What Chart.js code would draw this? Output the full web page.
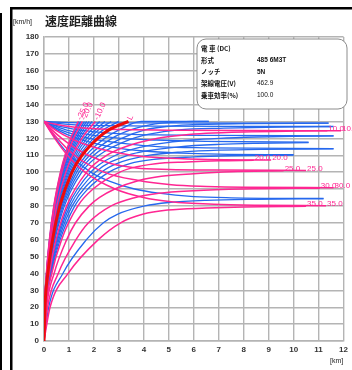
<!DOCTYPE html>
<html>
<head>
<meta charset="utf-8">
<script src="https://cdn.jsdelivr.net/npm/chart.js@4/dist/chart.umd.min.js"></script>
<style>
  html, body { margin: 0; padding: 0; background: #fff; }
  canvas { display: block; }
</style>
</head>
<body>
<canvas id="c" width="352" height="370"></canvas>
<script>
// ---- axis ticks ----
const distTicks = [0, 1, 2, 3, 4, 5, 6, 7, 8, 9, 10, 11, 12];      // km
const speedTicks = [0, 10, 20, 30, 40, 50, 60, 70, 80, 90, 100, 110, 120, 130, 140, 150, 160, 170, 180]; // km/h

// ---- accelerating from standstill, [distance km, speed km/h] ----
const accM25 = [[0,0],[0.024,20],[0.096,40],[0.216,60],[0.393,80],[0.658,100],[0.841,110],[1.072,120],[1.369,130]];
const accM24 = [[0,0],[0.024,20],[0.098,40],[0.220,60],[0.399,80],[0.669,100],[0.856,110],[1.093,120],[1.399,130]];
const accM22 = [[0,0],[0.025,20],[0.101,40],[0.226,60],[0.412,80],[0.692,100],[0.888,110],[1.138,120],[1.464,130]];
const accM20 = [[0,0],[0.026,20],[0.104,40],[0.234,60],[0.426,80],[0.717,100],[0.922,110],[1.186,120],[1.535,130]];
const accM18 = [[0,0],[0.027,20],[0.107,40],[0.241,60],[0.440,80],[0.744,100],[0.960,110],[1.240,120],[1.617,130]];
const accM16 = [[0,0],[0.028,20],[0.111,40],[0.250,60],[0.456,80],[0.773,100],[1.000,110],[1.299,120],[1.707,130]];
const accM14 = [[0,0],[0.029,20],[0.115,40],[0.259,60],[0.472,80],[0.804,100],[1.045,110],[1.364,120],[1.809,130]];
const accM12 = [[0,0],[0.030,20],[0.119,40],[0.268,60],[0.490,80],[0.838,100],[1.093,110],[1.436,120],[1.924,130]];
const accM10 = [[0,0],[0.031,20],[0.124,40],[0.278,60],[0.510,80],[0.875,100],[1.146,110],[1.516,120],[2.054,130]];
const accM8  = [[0,0],[0.032,20],[0.129,40],[0.290,60],[0.531,80],[0.916,100],[1.206,110],[1.612,120],[2.229,130]];
const accM6  = [[0,0],[0.034,20],[0.134,40],[0.302,60],[0.554,80],[0.960,100],[1.273,110],[1.719,120],[2.437,130]];
const accM4  = [[0,0],[0.035,20],[0.140,40],[0.315,60],[0.578,80],[1.010,100],[1.348,110],[1.842,120],[2.177,125],[2.689,130]];
const accM2  = [[0,0],[0.037,20],[0.146,40],[0.329,60],[0.606,80],[1.064,100],[1.432,110],[1.984,120],[2.370,125],[2.997,130]];
const accLevel = [[0,0],[0.038,20],[0.153,40],[0.344,60],[0.635,80],[1.125,100],[1.527,110],[2.150,120],[2.600,125],[3.385,130]];
const accP2  = [[0,0],[0.041,20],[0.166,40],[0.373,60],[0.690,80],[1.232,100],[1.693,110],[2.440,120],[3.010,125],[3.900,130],[6.600,130]];
const accP4  = [[0,0],[0.044,20],[0.175,40],[0.393,60],[0.728,80],[1.313,100],[1.830,110],[2.722,120],[3.464,125],[4.230,128],[4.690,129],[6.000,130],[6.600,130]];
const accP6  = [[0,0],[0.046,20],[0.184,40],[0.415,60],[0.770,80],[1.406,100],[1.997,110],[3.109,120],[4.050,125],[4.900,127],[5.800,128],[8.000,128.7],[11.400,129]];
const accP8  = [[0,0],[0.049,20],[0.195,40],[0.439,60],[0.818,80],[1.514,100],[2.203,110],[3.573,120],[4.220,122.5],[5.400,125],[7.200,126],[9.500,126.7],[11.600,127]];
const accP10 = [[0,0],[0.054,20],[0.216,40],[0.485,60],[0.908,80],[1.709,100],[2.521,110],[3.260,115],[4.560,120],[5.600,122],[6.500,123],[8.000,123.8],[10.000,124.3],[11.350,124.5]];
const accP12 = [[0,0],[0.058,20],[0.230,40],[0.518,60],[0.972,80],[1.868,100],[2.870,110],[3.940,115],[4.940,117.5],[5.900,119],[7.000,120],[8.500,120.8],[10.000,121.2],[11.600,121.4]];
const accP14 = [[0,0],[0.062,20],[0.246,40],[0.554,60],[1.046,80],[2.063,100],[3.380,110],[4.100,112.5],[5.400,115],[7.000,116.4],[8.500,117],[10.600,117.4]];
const accP16 = [[0,0],[0.066,20],[0.265,40],[0.597,60],[1.132,80],[2.312,100],[2.914,105],[4.230,110],[5.600,112],[7.000,113],[8.700,113.5],[11.600,113.7]];
const accP18 = [[0,0],[0.072,20],[0.287,40],[0.646,60],[1.234,80],[1.756,90],[2.603,100],[3.440,105],[4.400,107.5],[6.000,109],[7.500,109.7],[10.000,110.1]];
const accP20 = [[0,0],[0.078,20],[0.313,40],[0.704,60],[1.357,80],[1.967,90],[3.040,100],[3.520,102.5],[4.470,105],[5.700,106],[7.000,106.7],[8.400,107]];
const accP25 = [[0,0],[0.101,20],[0.404,40],[0.909,60],[1.263,70],[1.813,80],[2.228,85],[2.836,90],[3.800,95],[4.700,97.5],[6.000,99],[7.500,100.2],[9.600,100.8]];
const accP30 = [[0,0],[0.143,20],[0.570,40],[1.282,60],[1.780,70],[2.691,80],[3.662,85],[4.600,87.5],[6.000,89],[8.000,90],[11.050,90.5]];
const accP33 = [[0,0],[0.189,20],[0.756,40],[1.701,60],[2.379,70],[2.937,75],[4.040,80],[5.000,82],[6.500,83.3],[8.500,83.9],[11.200,84.2]];
const accP35 = [[0,0],[0.242,20],[0.966,40],[2.174,60],[3.070,70],[3.948,75],[4.950,77.5],[6.500,78.7],[8.000,79.4],[10.500,79.8]];

// ---- entering an up-grade at 130 km/h, [distance km, speed km/h] ----
const decP6  = [[0,130],[0.70,129.5],[3.00,129.15],[11.40,129.0]];
const decP8  = [[0,130],[0.46,129],[1.27,128],[2.50,127.5],[4.50,127.2],[8.00,127.05],[11.50,127]];
const decP10 = [[0,130],[0.25,129],[0.79,127.5],[1.70,126],[3.20,125.2],[5.50,124.8],[8.00,124.6],[11.90,124.5]];
const decP12 = [[0,130],[0.51,127.5],[1.40,125],[2.30,123.5],[3.30,122.5],[4.50,122],[6.50,121.7],[11.60,121.5]];
const decP14 = [[0,130],[0.88,125],[1.68,122.5],[3.10,120],[4.50,119],[6.50,118.2],[10.60,117.7]];
const decP16 = [[0,130],[0.66,125],[1.82,120],[2.89,117.5],[4.70,115],[6.50,114.4],[11.60,113.9]];
const decP18 = [[0,130],[0.53,125],[1.33,120],[2.67,115],[4.00,112.5],[5.50,111.2],[7.00,110.6],[10.00,110.3]];
const decP20 = [[0,130],[0.45,125],[1.06,120],[1.93,115],[3.52,110],[4.70,108.5],[6.20,107.6],[9.10,107.1]];
const decP25 = [[0,130],[0.32,125],[0.71,120],[1.18,115],[1.77,110],[2.71,105],[3.70,102.5],[5.00,101.6],[6.80,101.2],[10.50,101]];
const decP30 = [[0,130],[0.53,120],[1.22,110],[2.40,100],[3.79,95],[5.10,92.5],[6.50,91.5],[8.00,91],[11.60,90.8]];
const decP33 = [[0,130],[0.46,120],[1.03,110],[1.87,100],[2.56,95],[3.63,90],[4.60,87.5],[6.00,85.5],[7.50,84.8],[11.20,84.4]];
const decP35 = [[0,130],[0.43,120],[0.94,110],[1.64,100],[2.85,90],[3.98,85],[5.10,82.5],[6.80,81],[8.50,80.4],[11.30,80.1]];

// gradient tags written at the end of the tagged curves
const slantTags = [[accM25, '-25.0'], [accM20, '-20.0'], [accM10, '-10.0'], [accLevel, 'L']];
const flatTags = [[accP10, '10.0'], [decP10, '10.0'], [accP20, '20.0'], [decP20, '20.0'],
                  [accP25, '25.0'], [decP25, '25.0'], [accP30, '30.0'], [decP30, '30.0'],
                  [accP35, '35.0'], [decP35, '35.0']];

// info panel rows
const infoKeys = ['電 車 (DC)', '形式', 'ノッチ', '架線電圧(V)', '乗車効率(%)'];
const infoVals = ['', '485 6M3T', '5N', '462.9', '100.0'];

const BLUE = 'rgb(38,104,238)';
const PINK = 'rgb(255,38,146)';
const RED = 'rgb(236,12,12)';

function curve(pts, color, width, order) {
  return {
    data: pts.map(p => ({ x: p[0], y: p[1] })),
    borderColor: color,
    borderWidth: width,
    showLine: true,
    pointRadius: 0,
    fill: false,
    cubicInterpolationMode: 'monotone',
    order: order
  };
}

const blueSets = [accM24, accM22, accM18, accM16, accM14, accM12, accM8, accM6, accM4, accM2,
                  accP2, accP4, accP6, accP8, accP12, accP14, accP16, accP18, accP33,
                  decP6, decP8, decP12, decP14, decP16, decP18, decP33];
const pinkSets = [accM25, accM20, accM10, accP10, accP20, accP25, accP30, accP35,
                  decP10, decP20, decP25, decP30, decP35];

const datasets = [];
blueSets.forEach(s => datasets.push(curve(s, BLUE, 1.3, 3)));
pinkSets.forEach(s => datasets.push(curve(s, PINK, 1.5, 2)));
datasets.push(curve(accLevel, RED, 3, 1));

const decor = {
  id: 'decor',
  beforeDraw(chart) {
    const ctx = chart.ctx;
    ctx.save();
    ctx.fillStyle = '#fff';
    ctx.fillRect(0, 0, chart.width, chart.height);
    // page frame
    ctx.fillStyle = '#000';
    ctx.fillRect(0, 13, 2, chart.height - 13);
    ctx.fillRect(10, 7, 2.5, chart.height - 7);
    ctx.fillRect(10, 7, chart.width - 10, 2.5);
    // title and units
    ctx.fillStyle = '#222';
    ctx.textBaseline = 'middle';
    ctx.textAlign = 'left';
    ctx.font = 'bold 12px "Noto Sans CJK JP"';
    ctx.fillText('速度距離曲線', 45, 21);
    ctx.font = '7px "Liberation Sans"';
    ctx.fillText('[km/h]', 13, 22);
    ctx.fillText('[km]', 330, 361);
    ctx.restore();
  },
  afterDatasetsDraw(chart) {
    const ctx = chart.ctx;
    const xs = chart.scales.x, ys = chart.scales.y;
    ctx.save();
    ctx.fillStyle = PINK;
    ctx.font = '8px "Liberation Sans"';
    ctx.textBaseline = 'middle';
    ctx.textAlign = 'left';
    slantTags.forEach(([pts, txt]) => {
      const p = pts[pts.length - 1];
      ctx.save();
      ctx.translate(xs.getPixelForValue(p[0]) + 1, ys.getPixelForValue(p[1]) - 2);
      ctx.rotate(-65 * Math.PI / 180);
      ctx.fillText(txt, 0, 0);
      ctx.restore();
    });
    flatTags.forEach(([pts, txt]) => {
      const p = pts[pts.length - 1];
      ctx.fillText(txt, xs.getPixelForValue(p[0]) + 1, ys.getPixelForValue(p[1]) - 2);
    });
    // info panel
    const bx = 197, by = 39, bw = 150, bh = 70;
    ctx.beginPath();
    ctx.roundRect(bx, by, bw, bh, 9);
    ctx.fillStyle = '#fff';
    ctx.fill();
    ctx.strokeStyle = '#8c8c8c';
    ctx.lineWidth = 1;
    ctx.stroke();
    ctx.fillStyle = '#111';
    infoKeys.forEach((k, i) => {
      const y = 48.5 + i * 11.7;
      ctx.font = 'bold 6.5px "Noto Sans CJK JP"';
      ctx.fillText(k, 201, y);
      ctx.font = (i < 3 ? 'bold ' : '') + '6.5px "Liberation Sans"';
      if (infoVals[i]) ctx.fillText(infoVals[i], 257, y);
    });
    ctx.restore();
  }
};

new Chart(document.getElementById('c'), {
  type: 'scatter',
  data: { datasets },
  options: {
    responsive: false,
    devicePixelRatio: 1,
    animation: false,
    events: [],
    layout: { padding: { top: 37, right: 3, left: 0, bottom: 0 } },
    plugins: { legend: { display: false }, tooltip: { enabled: false }, title: { display: false } },
    scales: {
      x: {
        type: 'linear',
        min: distTicks[0],
        max: distTicks[distTicks.length - 1],
        afterBuildTicks: s => { s.ticks = distTicks.map(v => ({ value: v })); },
        afterFit: s => { s.height = 29; },
        ticks: { padding: 4, color: '#333', font: { family: 'Liberation Sans', size: 8, weight: 'bold' }, maxRotation: 0 },
        grid: { color: '#b4b4b4', lineWidth: 1.4, drawTicks: false },
        border: { color: '#b4b4b4', width: 1.4 }
      },
      y: {
        type: 'linear',
        min: speedTicks[0],
        max: speedTicks[speedTicks.length - 1],
        afterBuildTicks: s => { s.ticks = speedTicks.map(v => ({ value: v })); },
        afterFit: s => { s.width = 44; },
        ticks: { padding: 5, color: '#333', font: { family: 'Liberation Sans', size: 8, weight: 'bold' } },
        grid: { color: '#b4b4b4', lineWidth: 1.4, drawTicks: false },
        border: { color: '#b4b4b4', width: 1.4 }
      }
    }
  },
  plugins: [decor]
});
</script>
</body>
</html>
